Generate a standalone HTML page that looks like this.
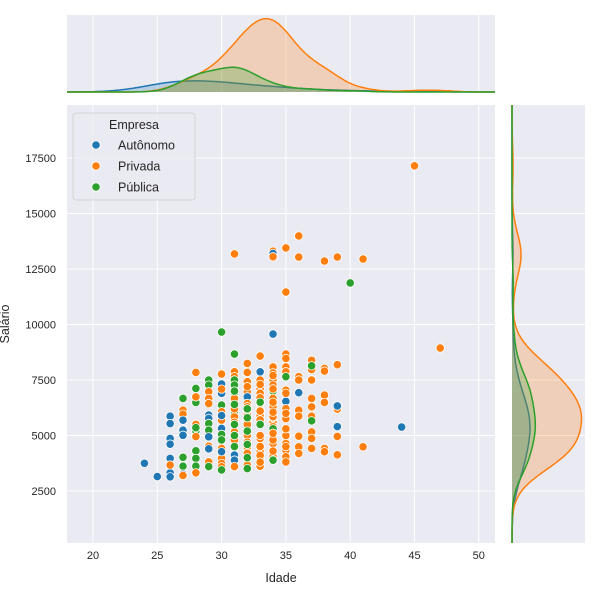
<!DOCTYPE html>
<html><head><meta charset="utf-8"><style>
html,body{margin:0;padding:0;background:#fff;}
svg{display:block;font-family:"Liberation Sans","DejaVu Sans",sans-serif;}
</style></head><body>
<svg id="chart" width="600" height="600" viewBox="0 0 600 600">
<g id="main"></g>
<g id="top"></g>
<g id="right"></g>
<g id="axes"></g>
<g id="legend"></g>
</svg>
<script>
const groups = ["Autônomo","Privada","Pública"];
const colors = ["#1f77b4","#ff7f0e","#2ca02c"];
const xTicks = [20,25,30,35,40,45,50];
const yTicks = [2500,5000,7500,10000,12500,15000,17500];
// group index: 0 Autônomo, 1 Privada, 2 Pública
const ages = [
24,25,
26,26,26,26,26,26,26,26,
27,27,27,27,27,27,27,27,27,27,
28,28,28,28,28,28,28,28,28,28,28,28,
29,29,29,29,29,29,29,29,29,29,29,29,29,
30,30,30,30,30,30,30,30,30,30,30,30,30,30,30,30,30,
31,31,31,31,31,31,31,31,31,31,31,31,31,31,31,31,31,
32,32,32,32,32,32,32,32,32,32,32,32,32,32,
33,33,33,33,33,33,33,33,33,33,33,33,33,
34,34,34,34,34,34,34,34,34,34,34,34,34,34,34,34,34,34,34,
35,35,35,35,35,35,35,35,35,35,35,35,35,35,35,35,35,
36,36,36,36,36,36,36,36,36,36,
37,37,37,37,37,37,37,37,37,37,37,
38,38,38,38,38,38,38,
39,39,39,39,39,39,39,
40,41,41,44,45,47,
32,32,32,32,32,33,33,33,33,33,33,33,34,34,34,34,34,34,34,31,31,31,35,35,35,35,
33,33,33,32,32,34,34,
31,31,32,32,30,29,30,
31,31,31,32,32,32,33,33];
const salaries = [
3750,3150,
5870,5540,4870,4610,3970,3320,3140,3670,
6670,6140,5960,5690,5240,5010,4020,3620,3260,3200,
7840,7120,6490,6740,5500,5200,4950,4310,3970,3620,3320,5350,
7500,7270,6970,6670,6440,5920,5770,5540,5240,4940,4520,3810,3600,
7770,7320,6900,7090,6370,6070,5690,5320,5050,4420,4160,3970,3740,3590,4270,9660,3450,
8670,7870,7650,7500,7270,6860,7000,6670,6080,5840,5460,5160,4460,4120,3890,3600,13180,
8245,7840,7420,6970,6740,6440,6080,5690,5320,5010,4490,3970,3670,3510,
8580,7870,7500,7120,6900,6440,6140,5810,5540,4870,4270,3970,3620,
8090,7820,7500,7270,7000,6670,6300,5950,5620,5390,4640,4160,4040,3890,13300,13200,13050,9570,5300,
8670,8470,8090,7870,7650,7040,6540,6210,5760,4940,4640,4340,4040,3810,13450,11460,4500,
7650,7500,6140,5870,6930,4970,4490,4190,13990,13040,
8390,7970,8140,7500,6670,6290,5870,5660,5160,4870,4420,
8020,7900,6820,6490,4420,4270,12860,
8190,6190,6330,5400,4960,4130,13040,
11870,4490,12950,5380,17150,8940,
4200,4700,5500,6300,7200,4100,4500,5000,6000,6700,7300,3800,4300,4800,5100,5800,6500,7100,7700,4800,5600,6200,5000,5300,6000,6900,
5900,6100,5700,5950,6150,5850,6050,
5500,6400,4600,5800,4800,4400,5900,
4500,5000,7000,5200,6200,4000,5500,6500];
const empresa = [
0,0,
0,0,0,0,0,0,0,1,
2,1,1,0,0,0,2,2,0,1,
1,2,2,1,1,2,1,2,2,2,1,2,
2,2,1,1,1,0,0,2,2,0,1,1,2,
1,0,0,1,2,1,1,0,2,1,1,1,1,1,0,2,2,
2,1,1,2,2,2,1,1,2,1,1,1,1,0,0,1,1,
1,1,1,1,0,1,1,1,2,1,1,1,1,2,
1,0,1,1,1,1,1,1,1,1,1,1,1,
1,1,1,1,2,1,1,0,1,1,1,1,1,2,1,0,1,0,2,
1,1,1,1,2,1,0,1,1,1,1,1,1,1,1,1,1,
1,1,1,1,0,1,1,1,1,1,
1,1,2,1,1,1,1,2,1,1,1,
1,1,1,1,1,1,1,
1,1,0,0,1,1,1,
2,1,1,0,1,1,
1,1,1,1,1,1,1,1,1,1,1,1,1,1,1,1,1,1,1,1,1,1,1,1,1,1,
1,1,1,1,1,1,1,
2,2,2,2,2,0,0,
2,2,2,2,2,2,2,2];

const NS="http://www.w3.org/2000/svg";
function mk(tag,attrs,parent){const e=document.createElementNS(NS,tag);for(const k in attrs)e.setAttribute(k,attrs[k]);parent.appendChild(e);return e;}
const M={x0:67,x1:495,y0:105,y1:543}, T={y0:15,y1:92}, R={x0:512,x1:585};
const xmin=17.98,xmax=51.26,ymin=158,ymax=19887;
const sx=v=>M.x0+(v-xmin)/(xmax-xmin)*(M.x1-M.x0);
const sy=v=>M.y1-(v-ymin)/(ymax-ymin)*(M.y1-M.y0);
const bg="#eaeaf2";
const main=document.getElementById('main'),top_=document.getElementById('top'),right=document.getElementById('right'),axes=document.getElementById('axes'),legend=document.getElementById('legend');
let r;
r=mk('rect',{x:M.x0,y:M.y0,width:M.x1-M.x0,height:M.y1-M.y0,fill:bg},main);

r=mk('rect',{x:M.x0,y:T.y0,width:M.x1-M.x0,height:T.y1-T.y0,fill:bg},top_);

r=mk('rect',{x:R.x0,y:M.y0,width:R.x1-R.x0,height:M.y1-M.y0,fill:bg},right);

xTicks.forEach(t=>{const x=sx(t);
 let g=mk('line',{x1:x,x2:x,y1:M.y0,y2:M.y1,stroke:"#fff","stroke-width":1},main);
 
 g=mk('line',{x1:x,x2:x,y1:T.y0,y2:T.y1,stroke:"#fff","stroke-width":1},top_);
 
 const l=mk('text',{x:x,y:M.y1+16,"text-anchor":"middle","font-size":"11",fill:"#262626"},axes);
 l.textContent=t;
});
yTicks.forEach(t=>{const y=sy(t);
 let g=mk('line',{x1:M.x0,x2:M.x1,y1:y,y2:y,stroke:"#fff","stroke-width":1},main);
 
 g=mk('line',{x1:R.x0,x2:R.x1,y1:y,y2:y,stroke:"#fff","stroke-width":1},right);
 
 const l=mk('text',{x:M.x0-11,y:y+4,"text-anchor":"end","font-size":"11",fill:"#262626"},axes);
 l.textContent=t;
});
let t=mk('text',{x:(M.x0+M.x1)/2,y:582,"text-anchor":"middle","font-size":"12.5",fill:"#262626"},axes);
t.textContent="Idade";
t=mk('text',{x:0,y:0,"text-anchor":"middle","font-size":"12.5",fill:"#262626",transform:`translate(9,${(M.y0+M.y1)/2}) rotate(-90)`},axes);
t.textContent="Salário";

const N=ages.length;
function kde(vals,lo,hi,steps){
 const n=vals.length,m=vals.reduce((a,b)=>a+b,0)/n;
 const sd=Math.sqrt(vals.reduce((a,b)=>a+(b-m)*(b-m),0)/(n-1));
 const bw=sd*Math.pow(n,-0.2);
 const out=[];
 for(let i=0;i<=steps;i++){const x=lo+(hi-lo)*i/steps;let s=0;
  for(const v of vals){const z=(x-v)/bw;s+=Math.exp(-0.5*z*z);}
  out.push([x,s/(N*bw*Math.sqrt(2*Math.PI))]);}
 return out;
}
const kx=[],ky=[];let mx=0,my=0;
groups.forEach((g,gi)=>{
 const a=ages.filter((_,i)=>empresa[i]===gi), s=salaries.filter((_,i)=>empresa[i]===gi);
 const ka=kde(a,xmin,xmax,200), ks=kde(s,ymin,ymax,300);
 kx.push(ka);ky.push(ks);
 ka.forEach(p=>mx=Math.max(mx,p[1]));ks.forEach(p=>my=Math.max(my,p[1]));
});
const dTop=d=>T.y1-d/(mx*1.05)*(T.y1-T.y0);
const dRight=d=>R.x0+d/(my*1.05)*(R.x1-R.x0);
[0,1,2].forEach(gi=>{
 const ka=kx[gi];
 let line=ka.map((p,i)=>(i?'L':'M')+sx(p[0]).toFixed(1)+','+dTop(p[1]).toFixed(1)).join('');
 let f=mk('path',{d:line+`L${sx(ka[ka.length-1][0])},${T.y1}L${sx(ka[0][0])},${T.y1}Z`,fill:colors[gi],"fill-opacity":0.25},top_);
 
 let l=mk('path',{d:line,fill:"none",stroke:colors[gi],"stroke-width":1.5},top_);
 
 const ks=ky[gi];
 line=ks.map((p,i)=>(i?'L':'M')+dRight(p[1]).toFixed(1)+','+sy(p[0]).toFixed(1)).join('');
 f=mk('path',{d:line+`L${R.x0},${sy(ks[ks.length-1][0])}L${R.x0},${sy(ks[0][0])}Z`,fill:colors[gi],"fill-opacity":0.25},right);
 
 l=mk('path',{d:line,fill:"none",stroke:colors[gi],"stroke-width":1.5},right);
 
});
ages.forEach((a,i)=>{
 const c=mk('circle',{cx:sx(a),cy:sy(salaries[i]),r:4.2,fill:colors[empresa[i]],stroke:"#fff","stroke-width":0.8},main);
 
 
});
r=mk('rect',{x:73,y:113,width:122,height:87,rx:3,fill:bg,"fill-opacity":0.85,stroke:"#cccccc","stroke-width":0.8},legend);

t=mk('text',{x:134,y:129,"text-anchor":"middle","font-size":"12.5",fill:"#262626"},legend);
t.textContent="Empresa";
groups.forEach((g,gi)=>{const y=145+gi*21;
 const c=mk('circle',{cx:96,cy:y,r:4.2,fill:colors[gi],stroke:"#fff","stroke-width":0.8},legend);
 
 const l=mk('text',{x:118,y:y+4.5,"font-size":"12.5",fill:"#262626"},legend);
 l.textContent=g;
});
</script>
</body></html>
